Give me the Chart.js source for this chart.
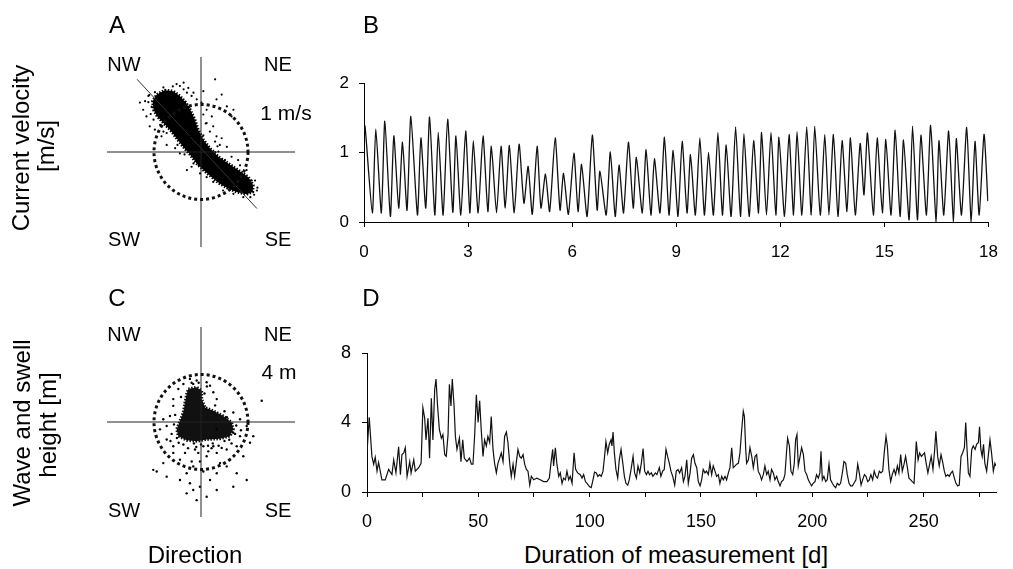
<!DOCTYPE html>
<html><head><meta charset="utf-8">
<script src="https://cdn.jsdelivr.net/npm/chart.js@4.4.1/dist/chart.umd.min.js"></script>
<style>
html,body{margin:0;padding:0;background:#fff;width:1013px;height:569px;overflow:hidden;}
body{position:relative;font-family:"Liberation Sans",Arial,sans-serif;color:#000;}
canvas{position:absolute;}
.t{position:absolute;line-height:1;white-space:nowrap;transform:translate(-50%,-50%);}
.r{transform:translate(-50%,-50%) rotate(-90deg);}
</style></head><body>
<canvas id="cA" width="320" height="270" style="left:0;top:0;width:320px;height:270px"></canvas>
<canvas id="cC" width="320" height="270" style="left:0;top:270px;width:320px;height:270px"></canvas>
<canvas id="cB" width="713" height="215" style="left:300px;top:60px;width:713px;height:215px"></canvas>
<canvas id="cD" width="713" height="210" style="left:300px;top:330px;width:713px;height:210px"></canvas>

<div class="t" style="left:117px;top:25px;font-size:24px">A</div>
<div class="t" style="left:371px;top:25px;font-size:24px">B</div>
<div class="t" style="left:117px;top:298px;font-size:24px">C</div>
<div class="t" style="left:371px;top:298px;font-size:24px">D</div>

<div class="t" style="left:124px;top:64px;font-size:20px">NW</div>
<div class="t" style="left:278px;top:64px;font-size:20px">NE</div>
<div class="t" style="left:124px;top:239px;font-size:20px">SW</div>
<div class="t" style="left:278px;top:239px;font-size:20px">SE</div>
<div class="t" style="left:286px;top:112px;font-size:21px">1 m/s</div>

<div class="t" style="left:124px;top:334px;font-size:20px">NW</div>
<div class="t" style="left:278px;top:334px;font-size:20px">NE</div>
<div class="t" style="left:124px;top:510px;font-size:20px">SW</div>
<div class="t" style="left:278px;top:510px;font-size:20px">SE</div>
<div class="t" style="left:279px;top:371px;font-size:21px">4 m</div>

<div class="t r" style="left:21px;top:148px;font-size:24px">Current velocity</div>
<div class="t r" style="left:46px;top:146px;font-size:24px">[m/s]</div>
<div class="t r" style="left:22px;top:423px;font-size:24px">Wave and swell</div>
<div class="t r" style="left:48px;top:425px;font-size:24px">height [m]</div>
<div class="t" style="left:195px;top:555px;font-size:24px">Direction</div>
<div class="t" style="left:676px;top:555px;font-size:24px">Duration of measurement [d]</div>

<script>
// ---------- Panel A: current velocity direction scatter (m/s) ----------
const aCloudX = [-0.94,-0.77,-0.59,-0.45,-0.32,-0.23,-0.13,-0.06,0.05,0.19,0.37,0.58,0.79,1.01,1.11,1.10,0.97,0.76,0.58,0.40,0.23,0.05,-0.09,-0.23,-0.38,-0.52,-0.66,-0.80,-0.93,-1.01,-1.03];
const aCloudY = [1.21,1.30,1.28,1.18,1.04,0.89,0.68,0.47,0.26,0.08,-0.10,-0.24,-0.38,-0.53,-0.70,-0.84,-0.89,-0.84,-0.77,-0.67,-0.53,-0.38,-0.24,-0.06,0.11,0.29,0.47,0.61,0.75,0.89,1.07];
const aDotX = [-0.52,-0.45,-0.37,-0.30,-0.20,-0.09,0.30,0.01,0.12,0.23,0.26,0.33,0.40,0.55,0.65,0.83,-1.23,-1.16,-1.09,-0.98,-0.84,-0.73,-0.30,-0.02,0.19,-0.16,-1.30,-1.19,-1.12,-0.37,-0.27,-0.16,0.05,0.44,0.55,0.69,0.65,0.33,0.12,0.05,0.19,0.79,0.97,1.08,1.19,0.90,0.69,0.47,0.26,0.12,-0.02,-0.20,-0.55,-0.45,-0.80,-1.01,-0.87,-0.73,0.37,0.51,-0.34,-0.23,-0.13,0.30,0.44,
  -1.10,-1.05,-0.60,-0.80,-1.12,-0.15,0.05,0.30,0.45,-0.35,-0.50,0.20,0.70,1.15,1.20,1.05,-1.07,-0.98,-0.25,0.10,0.62,0.88,1.13,0.35,-0.05];
const aDotY = [1.43,1.39,1.32,1.25,1.18,1.11,1.53,1.04,0.89,0.75,0.54,0.33,0.15,0.11,-0.10,-0.28,0.89,0.75,0.54,0.47,0.33,0.15,-0.38,-0.17,-0.38,-0.24,1.04,1.07,1.18,1.46,1.35,1.25,1.28,1.21,0.96,0.89,0.75,1.11,0.61,0.79,0.43,-0.17,-0.38,-0.60,-0.81,-0.95,-0.88,-0.81,-0.63,-0.53,-0.45,-0.31,0.08,-0.03,0.43,0.68,0.57,0.40,0.01,-0.17,0.50,0.33,0.15,0.22,0.29,
  1.20,0.95,1.38,1.36,1.05,0.55,0.35,0.00,-0.15,-0.05,0.15,-0.45,-0.80,-0.60,-0.75,-0.95,0.80,1.26,0.95,0.60,-0.35,-0.48,-0.90,0.12,-0.28];
const aFitX = [-1.36, 1.19];
const aFitY = [1.53, -1.19];
const aAxis = 2;        // half-length of the direction cross (m/s)
const aRefCircle = 1;   // 1 m/s reference circle

// ---------- Panel C: wave & swell direction scatter (m) ----------
const cCloudX = [-1.08,-0.37,0.06,0.06,0.34,1.05,1.90,2.61,2.75,2.47,1.62,0.49,-0.37,-1.22,-1.93,-2.07,-1.79,-1.51,-1.36,-1.22];
const cCloudY = [2.78,2.93,2.64,1.93,1.22,0.94,0.51,-0.05,-0.62,-1.19,-1.41,-1.47,-1.62,-1.53,-1.19,-0.62,0.09,0.80,1.65,2.36];
const cDotX = [-0.94,0.48,-0.37,1.05,-2.36,-2.64,1.34,2.75,3.32,3.89,4.17,3.32,3.04,2.19,1.34,0.48,-0.09,-0.66,-1.22,-1.79,-2.92,-3.77,-4.06,-3.21,-2.36,-1.79,-0.94,-0.66,-1.22,-0.09,0.77,1.34,2.19,3.04,3.89,2.75,1.34,0.48,-0.37,5.17,-2.36,-2.92,-3.49,2.47,3.60,4.45,1.62,0.20,-1.36,-0.51,0.20,1.05,1.76,-2.36,-1.93,1.34,-0.79,-0.23,0.62,2.75,-2.92,-3.21,0.77,-0.66,
  -1.50,0.50,-0.80,-2.30,-2.50,-2.20,2.00,3.00,2.90,-1.50,0.00,1.00,2.00,-0.40,0.60,1.50,-2.60,-1.90,2.40,3.40,-0.20,0.30,-1.70,2.20,1.20,-2.05,-1.10,0.90,2.60,-0.60];
const cDotY = [3.63,3.35,3.49,2.50,1.36,0.51,1.93,0.80,0.23,-0.34,-1.75,-1.19,-2.04,-2.32,-2.60,-2.89,-3.32,-3.74,-4.31,-4.88,-4.60,-4.17,-4.03,-3.46,-2.60,-3.17,-5.16,-5.73,-6.01,-5.45,-4.88,-4.31,-3.74,-4.31,-4.88,-5.45,-5.73,-6.30,-6.58,1.79,-2.04,-1.47,-0.62,-3.17,-2.89,-1.19,-3.46,-4.17,-2.60,-2.32,-2.04,-2.04,-2.18,1.93,2.78,-0.62,-3.32,-2.60,-2.47,-0.90,-0.34,0.23,3.06,3.21,
  3.20,3.00,3.30,-0.20,-1.00,0.60,0.90,-0.30,-1.00,-1.90,-1.90,-1.80,-1.60,-2.10,-2.00,-2.00,-1.60,-1.75,-1.50,-0.70,3.30,2.40,2.10,0.40,1.40,-1.35,-2.20,-2.20,-1.80,-1.80];
const cAxis = 8;        // half-length of the direction cross (m)
const cRefCircle = 4;   // 4 m reference circle

// ---------- Panel B: current velocity time series ----------
const bDay = [0,0.03,0.24,0.34,0.50,0.60,0.76,0.86,1.00,1.11,1.24,1.35,1.54,1.64,1.78,1.89,2.04,2.14,2.28,2.41,2.56,2.65,2.79,2.93,3.05,3.15,3.29,3.43,3.57,3.67,3.82,3.95,4.07,4.19,4.33,4.47,4.61,4.73,4.85,4.99,5.10,5.23,5.35,5.51,5.65,5.75,5.89,6.05,6.17,6.27,6.43,6.58,6.72,6.80,6.98,7.10,7.24,7.35,7.48,7.62,7.76,7.85,8.02,8.13,8.27,8.37,8.53,8.66,8.79,8.91,9.05,9.17,9.31,9.41,9.55,9.68,9.81,9.93,10.07,10.20,10.33,10.44,10.58,10.71,10.85,10.95,11.10,11.23,11.37,11.46,11.60,11.73,11.87,11.96,12.12,12.25,12.38,12.48,12.62,12.76,12.89,12.99,13.15,13.28,13.40,13.53,13.66,13.78,13.92,14.02,14.16,14.30,14.41,14.51,14.68,14.79,14.94,15.04,15.19,15.31,15.45,15.55,15.71,15.81,15.95,16.05,16.21,16.33,16.49,16.57,16.71,16.85,16.99,17.07,17.22,17.37,17.50,17.61,17.73,17.87,17.98];
const bVel = [1.30,1.38,0.13,1.34,0.13,1.45,0.08,1.24,0.20,1.15,0.17,1.52,0.10,1.21,0.20,1.51,0.10,1.29,0.10,1.48,0.14,1.24,0.10,1.31,0.13,1.17,0.13,1.24,0.15,1.09,0.13,1.09,0.20,1.10,0.13,1.12,0.27,0.80,0.11,1.09,0.20,0.69,0.15,1.21,0.17,0.70,0.11,0.99,0.15,0.83,0.08,1.25,0.17,0.73,0.10,1.01,0.08,0.82,0.13,1.15,0.20,0.93,0.13,1.04,0.10,0.91,0.13,1.22,0.10,1.03,0.08,1.16,0.13,0.97,0.10,1.21,0.10,1.00,0.10,1.29,0.10,1.11,0.08,1.37,0.08,1.27,0.08,1.17,0.13,1.29,0.10,1.29,0.10,1.22,0.08,1.26,0.10,1.30,0.10,1.37,0.10,1.38,0.10,1.26,0.10,1.26,0.08,1.17,0.15,1.21,0.10,1.13,0.39,1.28,0.10,1.21,0.13,1.19,0.10,1.32,0.08,1.18,0.03,1.38,0.03,1.25,0.10,1.39,0.00,1.17,0.10,1.31,0.00,1.20,0.10,1.36,0.00,1.16,0.10,1.26,0.30];
const bXTicks = [0,3,6,9,12,15,18];
const bYTicks = [0,1,2];

// ---------- Panel D: wave & swell height time series ----------
const dDay = [0,1.0,2.2,3.0,3.7,4.5,5.2,6.7,8.2,9.7,11.2,12,13,14.2,15,15.7,16.5,17.2,18,19.2,19.8,21,21.7,23.2,24.3,25.1,25.9,26.5,27.4,28.1,28.9,29.6,30.4,31.0,31.7,32.5,33.4,34.1,34.9,35.6,36.4,37.0,37.7,38.3,39.1,39.7,40.4,41.5,42.2,43.0,43.7,44.9,46.0,46.9,47.6,48.4,49.1,49.9,50.6,51.3,52.1,52.8,53.6,54.3,55.1,55.8,56.6,57.3,58.1,58.8,59.6,60.3,61.1,61.8,62.6,63.3,64.1,64.8,65.6,66.3,67.1,67.8,68.6,69.3,70.1,70.8,71.6,72.3,73.1,73.8,74.9,76.3,77.8,79.3,80.8,81.9,82.6,83.4,83.8,84.6,85.3,86.1,86.8,87.6,88.3,89.1,89.8,90.6,91.3,92.1,93.0,93.7,94.6,95.8,96.6,97.3,98.1,98.8,100,100.7,101.5,102.2,103,103.7,104.5,105.2,106.0,106.7,107.3,108.1,108.8,109.6,110,110.5,111.1,111.8,112.6,113.3,114.1,114.8,115.6,116.3,117.1,117.8,118.6,119.5,120.2,121,121.7,122.5,123.2,124,124.7,125.5,126.2,126.9,127.7,128.4,129.5,130.2,131.3,132.0,132.8,133.5,134.3,135.0,135.8,136.5,137.3,138.2,138.9,139.7,140.4,141.3,142.1,142.8,143.6,144.3,145.1,145.8,146.6,147.3,148.1,148.8,149.6,150.3,151.0,151.8,152.5,153.3,154.0,154.8,155.5,156.3,157.0,157.8,158.5,159.3,160.0,160.8,161.5,162.3,163.0,163.8,164.5,165.3,166.0,166.8,167.5,168.3,169.0,169.5,170.1,170.5,171.3,172.0,172.8,173.5,174.3,175.0,175.7,176.5,177.2,178.0,178.7,179.5,180.2,181.0,181.7,182.5,183.2,184.0,184.7,185.5,186.2,187.0,187.7,188.5,188.9,189.7,190.4,191.2,191.9,192.5,193.1,193.7,194.5,195.2,196.0,196.7,197.5,198.2,199.0,199.7,200.4,201.2,201.9,202.7,203.4,203.9,204.5,205.2,206.0,206.7,207.5,208.2,209.0,209.7,210.5,211.2,212.0,212.7,213.5,214.2,215.0,215.7,216.5,217.2,218.0,218.7,219.6,220.4,221.1,221.9,222.6,223.4,224.1,224.9,225.6,226.3,227.1,227.8,228.6,229.3,230.1,230.8,231.6,232.3,233.1,233.7,234.4,235.2,235.9,236.7,237.4,238.2,238.9,239.7,240.4,241.2,241.9,242.7,243.4,244.2,244.9,245.7,246.1,246.7,247.5,248.2,249.0,249.7,250.4,251.2,251.9,252.7,253.4,254.2,254.9,255.5,256.3,257.0,257.8,258.5,259.3,260.0,260.8,261.5,262.3,263.0,263.8,264.5,265.3,266.0,266.8,267.5,268.3,268.9,269.5,270.1,270.8,271.6,272.3,273.1,273.8,274.6,275.1,275.7,276.3,276.9,277.5,278.3,279.0,279.8,280.5,281.3,282.0,282.5];
const dHeight = [2.25,4.3,2.05,1.6,2.0,1.2,1.7,0.7,0.7,1.3,1.0,1.85,1.1,2.6,1.0,2.15,2.25,2.55,0.9,1.75,1.1,1.85,1.2,1.4,1.65,4.85,4.25,3.0,4.25,1.95,5.4,3.0,5.9,6.5,4.95,3.6,3.1,3.3,2.15,2.05,3.3,6.2,4.95,6.5,4.95,3.2,2.45,3.1,1.75,3.0,1.95,1.75,1.95,1.6,1.6,3.4,5.6,4.0,5.25,3.6,2.05,3.0,2.65,3.2,2.85,4.35,2.45,1.65,1.1,1.65,1.95,2.25,1.75,3.2,3.45,2.85,1.65,0.9,1.6,0.9,1.75,2.45,2.05,1.95,2.15,1.6,1.3,1.2,0.4,0.9,0.7,0.8,0.7,0.6,0.6,0.8,1.65,2.45,1.5,2.55,1.6,0.9,1.1,0.5,0.8,0.7,1.2,0.7,0.9,0.5,2.25,1.3,1.1,1.0,0.8,1.0,0.6,0.5,0.3,0.25,0.7,1.15,1.1,0.9,1.0,0.9,1.2,2.05,2.9,2.25,2.75,3.0,2.65,3.45,2.25,1.3,0.8,1.85,2.45,1.75,0.9,0.5,0.4,0.7,1.3,2.05,1.1,0.8,1.5,1.1,1.65,2.5,1.2,1.0,1.2,1.0,1.1,0.9,1.1,1.0,1.4,0.9,1.2,1.3,2.45,2.05,1.65,1.2,0.9,0.4,1.2,1.3,1.1,1.4,0.6,0.9,1.85,0.5,1.1,1.95,2.15,1.65,1.4,0.6,0.35,0.7,1.3,1.1,1.2,1.0,1.65,1.0,1.5,1.2,0.9,1.0,0.5,0.9,0.7,0.9,0.7,1.1,1.4,2.55,1.4,1.5,1.6,1.65,2.25,3.6,4.65,4.35,2.45,1.65,1.85,2.55,2.05,1.4,2.05,2.15,1.2,1.0,0.7,1.0,1.5,1.0,1.2,0.7,1.3,1.1,0.7,0.9,0.6,0.35,0.6,0.7,1.0,2.45,3.1,2.65,1.2,1.0,1.65,3.0,3.3,1.5,2.05,2.55,2.15,1.2,1.0,0.7,0.5,0.35,0.5,0.6,1.0,0.8,1.1,2.35,0.7,0.9,0.6,0.7,1.6,0.7,0.5,0.35,0.25,0.5,0.4,0.5,1.1,1.75,1.65,1.0,0.5,0.35,0.35,0.5,0.7,1.6,1.1,0.4,0.7,1.0,0.9,0.6,0.7,1.0,0.7,1.2,0.9,0.8,1.2,1.1,1.2,2.25,3.2,2.65,1.3,0.6,1.0,1.3,1.0,1.5,1.1,2.15,1.2,1.6,2.05,1.4,0.8,0.7,0.6,0.5,0.5,2.9,1.85,2.25,2.05,2.15,2.25,1.6,1.1,1.6,2.05,1.3,2.35,3.5,2.05,1.5,2.15,1.75,1.2,0.9,1.0,0.9,1.1,1.2,0.8,0.5,0.35,0.4,2.05,2.25,2.55,4.0,2.45,1.1,0.9,2.45,2.65,2.45,2.75,2.85,3.75,2.45,2.05,2.75,1.65,1.2,2.05,3.0,2.25,1.2,1.65,1.5];
const dXTicks = [0,25,50,75,100,125,150,175,200,225,250,275];
const dXLabels = ['0','','50','','100','','150','','200','','250',''];
const dYTicks = [0,4,8];
const dXMax = 282.5;

// ---------- helpers ----------
Chart.defaults.font.family = '"Liberation Sans", Arial, sans-serif';
Chart.defaults.color = '#000';
const toXY = (xs, ys) => xs.map((x, i) => ({x: x, y: ys[i]}));

const refCircle = {
  id: 'refCircle',
  afterDatasetsDraw(chart, args, opts) {
    if (!opts || !opts.radius) return;
    const ctx = chart.ctx, x = chart.scales.x, y = chart.scales.y;
    const cx = x.getPixelForValue(0), cy = y.getPixelForValue(0);
    const rx = x.getPixelForValue(opts.radius) - cx;
    const ry = cy - y.getPixelForValue(opts.radius);
    ctx.save();
    ctx.beginPath();
    ctx.setLineDash([3, 3]);
    ctx.lineWidth = 3;
    ctx.strokeStyle = '#111';
    ctx.ellipse(cx, cy, rx, ry, 0, 0, Math.PI * 2);
    ctx.stroke();
    ctx.restore();
  }
};
const cloudFill = {
  id: 'cloudFill',
  beforeDatasetsDraw(chart) {
    const ctx = chart.ctx;
    chart.data.datasets.forEach((ds, i) => {
      if (!ds.cloud) return;
      const pts = chart.getDatasetMeta(i).data;
      ctx.save();
      ctx.beginPath();
      pts.forEach((p, j) => j ? ctx.lineTo(p.x, p.y) : ctx.moveTo(p.x, p.y));
      ctx.closePath();
      ctx.fillStyle = ds.cloudColor;
      ctx.fill();
      ctx.setLineDash([1.5, 1.5]);
      ctx.lineWidth = 3;
      ctx.strokeStyle = ds.cloudColor;
      ctx.stroke();
      ctx.restore();
    });
  }
};

function directionChart(id, cloudX, cloudY, dotX, dotY, axisHalf, circleR, extra, dotR, cloudColor) {
  const datasets = [
    {data: toXY([-axisHalf, axisHalf], [0, 0]), showLine: true, borderColor: '#222', borderWidth: 1, pointRadius: 0},
    {data: toXY([0, 0], [-axisHalf, axisHalf]), showLine: true, borderColor: '#222', borderWidth: 1, pointRadius: 0},
    {data: toXY(dotX, dotY), pointRadius: dotR, pointBorderWidth: 0, pointBackgroundColor: '#000'},
    {data: toXY(cloudX, cloudY), pointRadius: 0, showLine: false, cloud: true, cloudColor: cloudColor}
  ].concat(extra);
  return new Chart(document.getElementById(id), {
    type: 'scatter',
    data: {datasets: datasets},
    options: {
      responsive: false, animation: false, devicePixelRatio: 1,
      layout: {padding: {left: 107, right: 25, top: 57, bottom: 23}},
      scales: {
        x: {type: 'linear', display: false, min: -axisHalf, max: axisHalf},
        y: {type: 'linear', display: false, min: -axisHalf, max: axisHalf}
      },
      plugins: {legend: {display: false}, tooltip: {enabled: false}, refCircle: {radius: circleR}}
    },
    plugins: [cloudFill, refCircle]
  });
}

directionChart('cA', aCloudX, aCloudY, aDotX, aDotY, aAxis, aRefCircle,
  [{data: toXY(aFitX, aFitY), showLine: true, borderColor: '#333', borderWidth: 1, pointRadius: 0}], 1.1, '#000');
directionChart('cC', cCloudX, cCloudY, cDotX, cDotY, cAxis, cRefCircle, [], 1.2, '#111');

function seriesChart(id, xs, ys, xTicks, xLabels, yTicks, xMax, pad, yWidth, xHeight, fontSize, xPad, yPad, lw, tension) {
  const axisCommon = {
    grid: {drawOnChartArea: false, drawTicks: true, tickLength: 5, color: '#000'},
    border: {display: true, color: '#000', width: 1}
  };
  return new Chart(document.getElementById(id), {
    type: 'scatter',
    data: {datasets: [{data: toXY(xs, ys), showLine: true, borderColor: '#111', borderWidth: lw, pointRadius: 0, tension: tension}]},
    options: {
      responsive: false, animation: false, devicePixelRatio: 1,
      layout: {padding: pad},
      scales: {
        x: Object.assign({}, axisCommon, {
          type: 'linear', min: 0, max: xMax,
          afterBuildTicks: s => { s.ticks = xTicks.map(v => ({value: v})); },
          afterFit: s => { s.height = xHeight; },
          ticks: {padding: xPad, autoSkip: false, maxRotation: 0, font: {size: fontSize}, color: '#000',
                  callback: (v, i) => xLabels[i]}
        }),
        y: Object.assign({}, axisCommon, {
          type: 'linear', min: yTicks[0], max: yTicks[yTicks.length - 1],
          afterBuildTicks: s => { s.ticks = yTicks.map(v => ({value: v})); },
          afterFit: s => { s.width = yWidth; },
          ticks: {padding: yPad, font: {size: fontSize}, color: '#000'}
        })
      },
      plugins: {legend: {display: false}, tooltip: {enabled: false}}
    }
  });
}

seriesChart('cB', bDay, bVel, bXTicks, bXTicks.map(String), bYTicks, 18,
  {left: 0, right: 14, top: 23, bottom: 0}, 64, 53, 17, 15, 10, 1.3, 0.2);
seriesChart('cD', dDay, dHeight, dXTicks, dXLabels, dYTicks, dXMax,
  {left: 0, right: 17, top: 23, bottom: 0}, 67, 48, 18, 14, 11, 1.2, 0);
</script>
</body></html>
